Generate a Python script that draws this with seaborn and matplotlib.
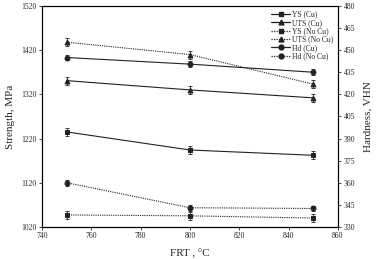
import pandas as pd
import seaborn as sns
import matplotlib.pyplot as plt
from matplotlib.lines import Line2D

frt = [750, 800, 850]

ys_cu = [1235, 1194, 1182]
uts_cu = [1351, 1330, 1312]
ys_nocu = [1047, 1045, 1040]
uts_nocu = [1438, 1410, 1343]
hd_cu = [445, 440.5, 435]
hd_nocu = [360, 343, 342.5]

err_strength = [9, 9, 9]
err_hd = [2, 2, 2]

labels = ['YS (Cu)', 'UTS (Cu)', 'YS (No Cu)', 'UTS (No Cu)', 'Hd (Cu)', 'Hd (No Cu)']

sns.set_style('ticks')
plt.rcParams['font.family'] = ['Liberation Serif', 'DejaVu Serif']

fig = plt.figure(figsize=(3.92, 2.59), dpi=100)
ax = fig.add_axes([0.107, 0.124, 0.755, 0.853])
ax2 = ax.twinx()

lc = '#222222'
# (values, axis, marker, linestyle, err)
series = [
    (ys_cu, ax, 's', '-', err_strength),
    (uts_cu, ax, '^', '-', err_strength),
    (ys_nocu, ax, 's', (0, (1, 1)), err_strength),
    (uts_nocu, ax, '^', (0, (1, 1)), err_strength),
    (hd_cu, ax2, 'o', '-', err_hd),
    (hd_nocu, ax2, 'o', (0, (1, 1)), err_hd),
]

handles = []
for (vals, a, mk, ls, err), lab in zip(series, labels):
    df = pd.DataFrame({'FRT': frt, 'val': vals})
    sns.lineplot(data=df, x='FRT', y='val', ax=a, color=lc, linestyle=ls,
                 linewidth=0.8, marker=mk, markersize=3.5, markeredgecolor=lc,
                 legend=False)
    a.errorbar(frt, vals, yerr=err, fmt='none', ecolor=lc, elinewidth=0.6,
               capsize=1.5, capthick=0.6)
    handles.append(Line2D([0], [0], color=lc, linestyle=ls, linewidth=0.9,
                          marker=mk, markersize=3.5, label=lab))

ax.set_xlim(740, 860)
ax.set_xticks(range(740, 861, 20))
ax.set_ylim(1020, 1520)
ax.set_yticks(range(1020, 1521, 100))
ax2.set_ylim(330, 480)
ax2.set_yticks(range(330, 481, 15))

ax.set_xlabel('FRT , °C', fontsize=8, labelpad=6)
ax.set_ylabel('Strength, MPa', fontsize=8, labelpad=4)
ax2.set_ylabel('Hardness, VHN', fontsize=8, labelpad=6)

for a in (ax, ax2):
    a.tick_params(labelsize=5.5, length=2, width=0.6, pad=2)
    for s in a.spines.values():
        s.set_linewidth(0.8)
        s.set_color('black')

ax.legend(handles=handles, loc='upper right', fontsize=5.5, frameon=False,
          handlelength=2.4, labelspacing=0.05, borderaxespad=0.2,
          handletextpad=0.3, bbox_to_anchor=(1.0, 1.0))

fig.savefig('out.png', dpi=100)
